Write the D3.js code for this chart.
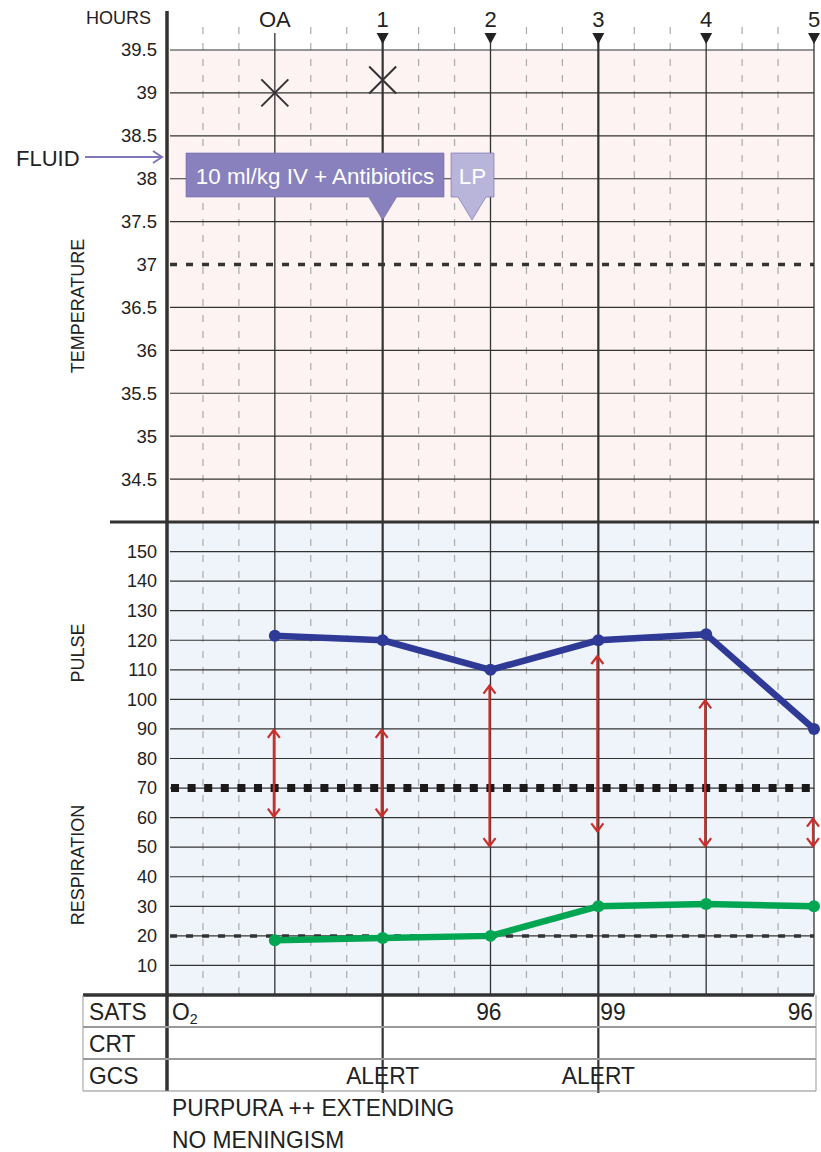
<!DOCTYPE html>
<html>
<head>
<meta charset="utf-8">
<script src="https://cdn.jsdelivr.net/npm/d3@7"></script>
<style>
  body { margin: 0; background: #fff; }
  text { font-family: "Liberation Sans", Arial, sans-serif; fill: #222; }
</style>
</head>
<body>
<div class="chart"></div>
<script>
var width = 821,
    height = 1152;

// hours along the top
var hourLabels = ["OA", "1", "2", "3", "4", "5"];
var hourValues = [0, 1, 2, 3, 4, 5];

// temperature crosses
var tempHours = [0, 1];
var tempValues = [39.0, 39.15];
var tempTicks = [34.5, 35, 35.5, 36, 36.5, 37, 37.5, 38, 38.5, 39, 39.5];

// pulse and respiration
var pulseValues = [121.5, 120, 110, 120, 122, 90];
var respValues = [18.5, 19.3, 20, 30, 30.8, 30];
var rateTicks = [10, 20, 30, 40, 50, 60, 70, 80, 90, 100, 110, 120, 130, 140, 150];

// blood pressure style arrows
var arrowTop = [90, 90, 105, 115, 100, 60];
var arrowBottom = [60, 60, 50, 55, 50, 50];

// table rows
var tableRows = ["SATS", "CRT", "GCS"];
var satsHours = [2, 3, 5];
var satsValues = ["96", "99", "96"];
var gcsHours = [1, 3];
var gcsValues = ["ALERT", "ALERT"];
var notes = ["PURPURA ++ EXTENDING", "NO MENINGISM"];

var svg = d3.select(".chart").append("svg")
    .attr("width", width)
    .attr("height", height);

var x = d3.scaleLinear().domain([-1, 5]).range([167, 814]);
var yT = d3.scaleLinear().domain([34, 39.5]).range([522, 50]);
var yP = d3.scaleLinear().domain([0, 160]).range([995, 522]);

var left = x(-1), right = x(5);
var rowH = 32;

// backgrounds
svg.append("rect").attr("x", left).attr("y", yT(39.5))
    .attr("width", right - left).attr("height", yT(34) - yT(39.5))
    .attr("fill", "#fdf3f2");
svg.append("rect").attr("x", left).attr("y", yP(160))
    .attr("width", right - left).attr("height", yP(0) - yP(160))
    .attr("fill", "#eff3fa");

// dashed third-hour lines
var thirds = d3.range(-1, 5, 1 / 3).filter(function(d) {
  return Math.abs(d - Math.round(d)) > 0.1;
});
svg.selectAll(".third").data(thirds).enter().append("line")
    .attr("x1", function(d) { return x(d); })
    .attr("x2", function(d) { return x(d); })
    .attr("y1", 27).attr("y2", yP(0))
    .attr("stroke", "#aaa").attr("stroke-width", 1.2)
    .attr("stroke-dasharray", "7,9");

// horizontal grid
svg.selectAll(".tgrid").data(tempTicks).enter().append("line")
    .attr("x1", left + 3).attr("x2", right)
    .attr("y1", function(d) { return yT(d); })
    .attr("y2", function(d) { return yT(d); })
    .attr("stroke", "#333").attr("stroke-width", function(d) { return d === 37 ? 0 : 1.2; });
svg.selectAll(".pgrid").data(rateTicks).enter().append("line")
    .attr("x1", left + 3).attr("x2", right)
    .attr("y1", function(d) { return yP(d); })
    .attr("y2", function(d) { return yP(d); })
    .attr("stroke", "#333").attr("stroke-width", 1.2);

// hour lines
svg.selectAll(".hour").data(hourValues).enter().append("line")
    .attr("x1", function(d) { return x(d); })
    .attr("x2", function(d) { return x(d); })
    .attr("y1", function(d) { return d === 0 ? 33 : 40; })
    .attr("y2", function(d) { return (d === 1 || d === 3) ? yP(0) + 3 * rowH + 2 : yP(0); })
    .attr("stroke", "#333")
    .attr("stroke-width", function(d) { return (d === 1 || d === 3) ? 2.2 : 1.3; });

// triangles on top
svg.selectAll(".tri").data(hourValues.slice(1)).enter().append("path")
    .attr("d", function(d) {
      var cx = x(d);
      return "M" + (cx - 6) + ",33L" + (cx + 6) + ",33L" + cx + ",44Z";
    })
    .attr("fill", "#222");

// hour labels
svg.selectAll(".hlabel").data(hourValues).enter().append("text")
    .attr("x", function(d) { return x(d); })
    .attr("y", 27)
    .attr("text-anchor", "middle")
    .attr("font-size", 22)
    .text(function(d, i) { return hourLabels[i]; });
svg.append("text").attr("x", 151).attr("y", 24).attr("text-anchor", "end")
    .attr("font-size", 18).text("HOURS");

// temperature axis labels
var tAxis = svg.append("g").attr("transform", "translate(" + left + ",0)")
    .call(d3.axisLeft(yT).tickValues(tempTicks).tickSize(0).tickPadding(10)
      .tickFormat(function(d) { return String(d); }));
tAxis.select(".domain").remove();
tAxis.selectAll("text").attr("font-size", 18.5).attr("fill", "#222")
    .style("font-family", "Liberation Sans, Arial, sans-serif");

var pAxis = svg.append("g").attr("transform", "translate(" + left + ",0)")
    .call(d3.axisLeft(yP).tickValues(rateTicks).tickSize(0).tickPadding(10));
pAxis.select(".domain").remove();
pAxis.selectAll("text").attr("font-size", 18).attr("fill", "#222")
    .style("font-family", "Liberation Sans, Arial, sans-serif");

// reference dashed lines
svg.append("line").attr("x1", left + 3).attr("x2", right)
    .attr("y1", yT(37)).attr("y2", yT(37))
    .attr("stroke", "#333").attr("stroke-width", 3.5).attr("stroke-dasharray", "7,9");
svg.append("line").attr("x1", left + 3).attr("x2", right)
    .attr("y1", yP(20)).attr("y2", yP(20))
    .attr("stroke", "#333").attr("stroke-width", 3.5).attr("stroke-dasharray", "7,9");
svg.append("line").attr("x1", left + 4).attr("x2", right)
    .attr("y1", yP(70)).attr("y2", yP(70))
    .attr("stroke", "#1a1a1a").attr("stroke-width", 8).attr("stroke-dasharray", "8,8.6");

// left labels
function sideLabel(txt, cy) {
  svg.append("text")
    .attr("transform", "translate(84," + cy + ") rotate(-90)")
    .attr("text-anchor", "middle")
    .attr("font-size", 18)
    .text(txt);
}
sideLabel("TEMPERATURE", 306);
sideLabel("PULSE", 653);
sideLabel("RESPIRATION", 865);

// temperature crosses
svg.selectAll(".cross").data(tempValues).enter().append("path")
    .attr("d", function(d, i) {
      var cx = x(tempHours[i]), cy = yT(d), s = 13.5;
      return "M" + (cx - s) + "," + (cy - s) + "L" + (cx + s) + "," + (cy + s) +
             "M" + (cx - s) + "," + (cy + s) + "L" + (cx + s) + "," + (cy - s);
    })
    .attr("stroke", "#333").attr("stroke-width", 2).attr("fill", "none");

// fluid annotation
svg.append("text").attr("x", 16).attr("y", 166).attr("font-size", 22).text("FLUID");
svg.append("path")
    .attr("d", "M85,157L161,157M153,151L162,157L153,163")
    .attr("stroke", "#7d76b9").attr("stroke-width", 2).attr("fill", "none");

function callout(x0, x1, tip, fill, label) {
  var yTop = 153, yBot = 197;
  svg.append("path")
    .attr("d", "M" + x0 + "," + yTop + "L" + x1 + "," + yTop + "L" + x1 + "," + yBot +
      "L" + (tip + 14) + "," + yBot + "L" + tip + "," + (yBot + 23) + "L" + (tip - 14) + "," + yBot +
      "L" + x0 + "," + yBot + "Z")
    .attr("fill", fill).attr("stroke", "#6f68a8").attr("stroke-width", 0.6);
  svg.append("text").attr("x", (x0 + x1) / 2).attr("y", 184)
    .attr("text-anchor", "middle").attr("font-size", 22.4)
    .style("fill", "#fff").text(label);
}
callout(186, 444, x(1), "#8881bd", "10 ml/kg IV + Antibiotics");
callout(451, 494, 472, "#b8b4da", "LP");

// red double arrows
var arrows = svg.append("g").attr("stroke", "#c9302c").attr("stroke-width", 2.2).attr("fill", "none");
hourValues.forEach(function(h, i) {
  var cx = x(h) - 1, t = yP(arrowTop[i]), b = yP(arrowBottom[i]);
  arrows.append("path")
    .attr("d", "M" + cx + "," + (t + 1) + "L" + cx + "," + (b - 1) +
      "M" + (cx - 6) + "," + (t + 9) + "L" + cx + "," + (t + 1) + "L" + (cx + 6) + "," + (t + 9) +
      "M" + (cx - 6) + "," + (b - 9) + "L" + cx + "," + (b - 1) + "L" + (cx + 6) + "," + (b - 9));
});

// pulse & respiration lines
function series(vals, color) {
  var line = d3.line()
    .x(function(d, i) { return x(hourValues[i]); })
    .y(function(d) { return yP(d); });
  svg.append("path").datum(vals)
    .attr("fill", "none").attr("stroke", color).attr("stroke-width", 6.5)
    .attr("stroke-linejoin", "round").attr("d", line);
  svg.selectAll(null).data(vals).enter().append("circle")
    .attr("cx", function(d, i) { return x(hourValues[i]); })
    .attr("cy", function(d) { return yP(d); })
    .attr("r", 6).attr("fill", color);
}
series(pulseValues, "#2f3a96");
series(respValues, "#00a651");

// thick frame lines
svg.append("line").attr("x1", left).attr("x2", left).attr("y1", 11).attr("y2", yP(0) + 3 * rowH)
    .attr("stroke", "#333").attr("stroke-width", 3.5);
svg.append("line").attr("x1", 110).attr("x2", 819).attr("y1", yT(34)).attr("y2", yT(34))
    .attr("stroke", "#333").attr("stroke-width", 3);
svg.append("line").attr("x1", 83).attr("x2", right).attr("y1", yP(0)).attr("y2", yP(0))
    .attr("stroke", "#333").attr("stroke-width", 3.5);

// table
var tTop = yP(0);
function tableText(tx, ty, txt, anchor) {
  return svg.append("text")
    .attr("transform", "translate(" + tx + "," + ty + ") scale(0.95,1)")
    .attr("text-anchor", anchor || "start")
    .attr("font-size", 24)
    .text(txt);
}
tableRows.forEach(function(r, i) {
  svg.append("line").attr("x1", 83).attr("x2", right + 2)
    .attr("y1", tTop + (i + 1) * rowH).attr("y2", tTop + (i + 1) * rowH)
    .attr("stroke", i < 2 ? "#999" : "#888").attr("stroke-width", i < 2 ? 2 : 1);
  tableText(89, tTop + i * rowH + 25, r);
});
svg.append("line").attr("x1", 83).attr("x2", 83).attr("y1", tTop).attr("y2", tTop + 3 * rowH)
    .attr("stroke", "#999").attr("stroke-width", 1);
svg.append("line").attr("x1", right + 2).attr("x2", right + 2).attr("y1", tTop).attr("y2", tTop + 3 * rowH)
    .attr("stroke", "#999").attr("stroke-width", 1);

var o2 = tableText(172, tTop + 25, "O");
o2.append("tspan").attr("font-size", 15).attr("dy", 4).text("2");

satsValues.forEach(function(d, i) {
  var h = satsHours[i];
  if (h === 3) tableText(x(3) + 2, tTop + 25, d, "start");
  else tableText(x(h) + (h === 5 ? -1 : 11), tTop + 25, d, "end");
});

gcsValues.forEach(function(d, i) {
  tableText(x(gcsHours[i]), tTop + 2 * rowH + 25, d, "middle");
});

notes.forEach(function(d, i) {
  tableText(172, 1116 + i * 32, d);
});
</script>
</body>
</html>
